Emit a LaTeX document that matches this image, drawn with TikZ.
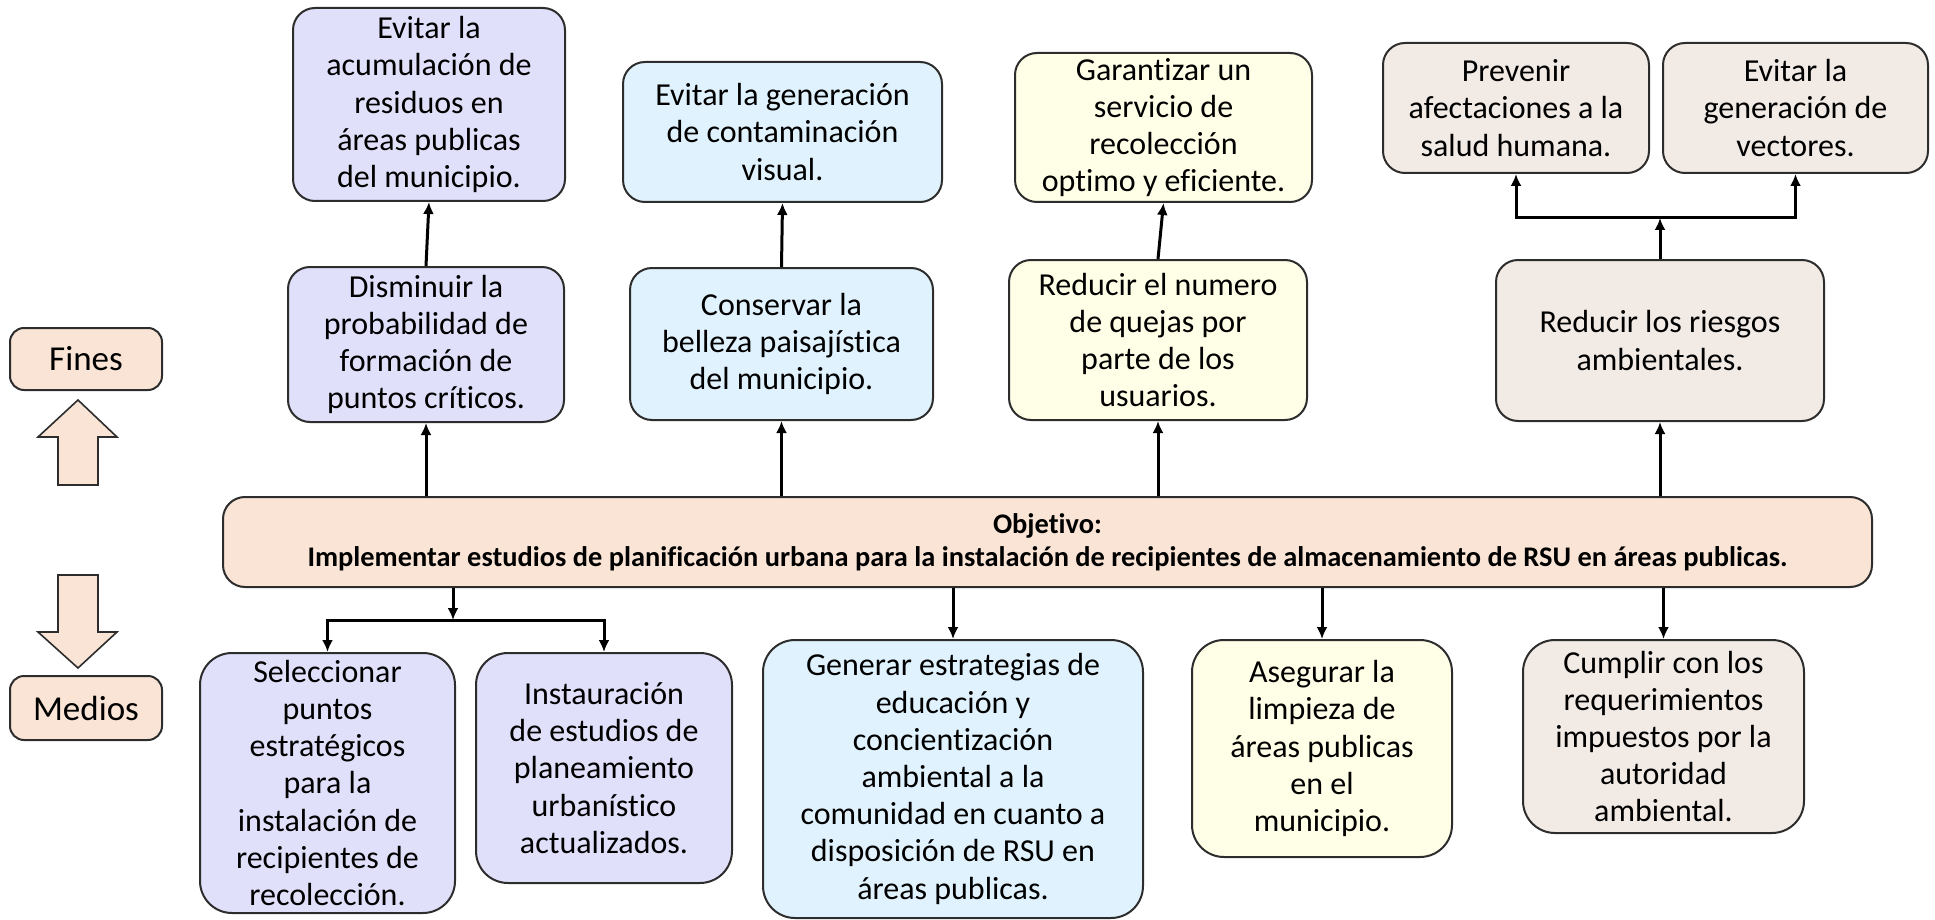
\documentclass[tikz,border=0pt]{standalone}
\usepackage{fontspec}
\setmainfont[Ligatures={NoCommon}]{Carlito}
\usetikzlibrary{arrows.meta,calc,positioning}
\definecolor{lavanda}{RGB}{224,224,250}
\definecolor{celeste}{RGB}{224,242,253}
\definecolor{crema}{RGB}{255,254,230}
\definecolor{gris}{RGB}{241,234,229}
\definecolor{durazno}{RGB}{250,228,214}
\definecolor{borde}{RGB}{45,45,45}
\tikzset{
	caja/.style={draw=borde,line width=1pt,rounded corners=11pt,align=center,inner sep=0pt,font=\fontsize{16}{18.6}\selectfont},
	tam/.style 2 args={minimum width=#1*0.5pt,minimum height=#2*0.5pt},
	flecha/.style={-{Latex[length=6pt,width=5.5pt]},line width=1.5pt},
	gorda/.style={draw=borde,fill=durazno,line width=0.8pt,line join=miter}
}

\begin{document}
\begin{tikzpicture}[x=0.5pt,y=-0.5pt]
\useasboundingbox (0,0) rectangle (1935,920);
\node[caja,fill=durazno,tam={152}{62},rounded corners=7pt,font=\fontsize{17.5}{19}\selectfont] (fines) at (86,359) {Fines};
\node[caja,fill=durazno,tam={152}{64},rounded corners=7pt,font=\fontsize{17.5}{19}\selectfont] (medios) at (86,708) {Medios};
\draw[gorda] (58,485) -- (58,437) -- (38,437) -- (78,400) -- (117,437) -- (98,437) -- (98,485) -- cycle;
\draw[gorda] (58,575) -- (98,575) -- (98,632) -- (117,632) -- (78,668) -- (38,632) -- (58,632) -- cycle;
\node[caja,fill=lavanda,tam={272}{193}] (acum) at (429,104.5) {Evitar la\\acumulación de\\residuos en\\áreas publicas\\del municipio.};
\node[caja,fill=lavanda,tam={276}{155}] (dism) at (426,344.5) {Disminuir la\\probabilidad de\\formación de\\puntos críticos.};
\node[caja,fill=celeste,tam={319}{140}] (visual) at (782.5,132) {Evitar la generación\\de contaminación\\visual.};
\node[caja,fill=celeste,tam={303}{152}] (belleza) at (781.5,344) {Conservar la\\belleza paisajística\\del municipio.};
\node[caja,fill=crema,tam={297}{149}] (servicio) at (1163.5,127.5) {Garantizar un\\servicio de\\recolección\\optimo y eficiente.};
\node[caja,fill=crema,tam={298}{160}] (quejas) at (1158,340) {Reducir el numero\\de quejas por\\parte de los\\usuarios.};
\node[caja,fill=gris,tam={266}{130}] (salud) at (1516,108) {Prevenir\\afectaciones a la\\salud humana.};
\node[caja,fill=gris,tam={265}{130}] (vectores) at (1795.5,108) {Evitar la\\generación de\\vectores.};
\node[caja,fill=gris,tam={328}{161}] (riesgos) at (1660,340.5) {Reducir los riesgos\\ambientales.};
\node[caja,fill=durazno,tam={1649}{90},font=\bfseries\fontsize{14.2}{16.5}\selectfont] (obj) at (1047.5,542) {Objetivo:\\Implementar estudios de planificación urbana para la instalación de recipientes de almacenamiento de RSU en áreas publicas.};
\node[caja,fill=lavanda,tam={255}{260},rounded corners=16pt] (puntos) at (327.5,783) {Seleccionar\\puntos\\estratégicos\\para la\\instalación de\\recipientes de\\recolección.};
\node[caja,fill=lavanda,tam={256}{230},rounded corners=16pt] (planeam) at (604,768) {Instauración\\de estudios de\\planeamiento\\urbanístico\\actualizados.};
\node[caja,fill=celeste,tam={380}{278},rounded corners=16pt] (educ) at (953,779) {Generar estrategias de\\educación y\\concientización\\ambiental a la\\comunidad en cuanto a\\disposición de RSU en\\áreas publicas.};
\node[caja,fill=crema,tam={260}{217},rounded corners=16pt] (limpieza) at (1322,748.5) {Asegurar la\\limpieza de\\áreas publicas\\en el\\municipio.};
\node[caja,fill=gris,tam={281}{193},rounded corners=16pt] (norma) at (1663.5,736.5) {Cumplir con los\\requerimientos\\impuestos por la\\autoridad\\ambiental.};
\coordinate (jr) at (1660,218);
\coordinate (jm) at (453,620);
\foreach \n in {dism,belleza,quejas,riesgos}
	\draw[flecha] (obj.north -| \n.south) -- (\n.south);
\foreach \a/\b in {dism/acum,belleza/visual,quejas/servicio}
	\draw[flecha] (\a.north) -- (\b.south);
\draw[flecha] (riesgos.north) -- (jr);
\draw[flecha] (jr) -| (salud.south);
\draw[flecha] (jr) -| (vectores.south);
\draw[flecha] (obj.south -| jm) -- (jm);
\draw[flecha] (jm) -| (puntos.north);
\draw[flecha] (jm) -| (planeam.north);
\foreach \n in {educ,limpieza,norma}
	\draw[flecha] (obj.south -| \n.north) -- (\n.north);
\end{tikzpicture}
\end{document}
